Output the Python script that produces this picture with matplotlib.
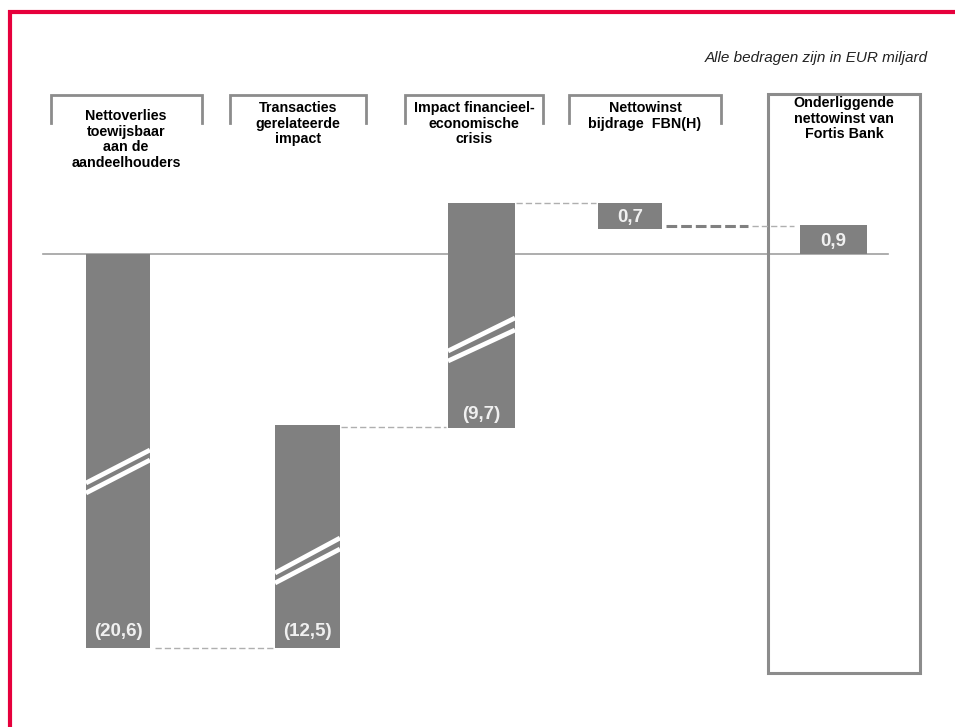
import matplotlib
matplotlib.use('Agg')
import matplotlib.pyplot as plt
from matplotlib.lines import Line2D
from matplotlib.patches import Rectangle

plt.rcParams['font.family'] = ['Liberation Sans', 'DejaVu Sans']

# Chart data
categories = ['Nettoverlies\ntoewijsbaar\naan de\naandeelhouders',
              'Transacties\ngerelateerde\nimpact',
              'Impact financieel-\neconomische\ncrisis',
              'Nettowinst\nbijdrage  FBN(H)',
              'Onderliggende\nnettowinst van\nFortis Bank']
values = [-20.6, -12.5, -9.7, 0.7, 0.9]
value_labels = ['(20,6)', '(12,5)', '(9,7)', '0,7', '0,9']
# drawn extents of the (broken) bars, in chart units
shown_top = [0.0, -8.55, 2.55, 2.55, 1.45]
shown_bottom = [-19.7, -19.7, -8.7, 1.25, 0.0]
note = 'Alle bedragen zijn in EUR miljard'

# Layout (x in pixels, y in chart units: 20 px per unit, zero at px 254)
def u(px):
    return (254 - px) / 20.0

bar_left = [86, 275, 448, 598, 800]
bar_width = [64, 65, 67, 64, 67]
label_y = [u(632), u(632), u(415), u(218), u(242)]
bar_color = '#808080'
line_gray = '#8C8C8C'
dash_gray = '#AFAFAF'
red = '#E6003C'

fig = plt.figure(figsize=(9.55, 7.27), dpi=100)
ax = fig.add_axes([0, 0, 1, 1])
ax.set_xlim(0, 955)
ax.set_ylim(u(727), u(0))
ax.axis('off')

# red frame
fig.add_artist(Line2D([8 / 955, 1], [1 - 12 / 727] * 2, color=red, lw=3,
                      transform=fig.transFigure, solid_capstyle='butt'))
fig.add_artist(Line2D([9.5 / 955] * 2, [0, 1 - 10 / 727], color=red, lw=3,
                      transform=fig.transFigure, solid_capstyle='butt'))

# zero line
ax.plot([43, 888], [0, 0], color='#A0A0A0', lw=1.2, zorder=1)

# final result box
ax.add_patch(Rectangle((768, u(673)), 152, u(94) - u(673), fill=False,
                       edgecolor=line_gray, lw=2.2, zorder=1))

# bars
for i in range(len(values)):
    ax.bar(bar_left[i], shown_top[i] - shown_bottom[i], bottom=shown_bottom[i],
           width=bar_width[i], align='edge', color=bar_color, zorder=2)
    ax.text(bar_left[i] + bar_width[i] / 2, label_y[i], value_labels[i],
            ha='center', va='center', fontsize=13.5, fontweight='bold',
            color='#F0F0F0', zorder=4)

# break marks
breaks = [(0, [(483, 450), (493, 460)]),
          (1, [(573, 538), (583, 549)]),
          (2, [(351, 318), (361, 330)])]
for i, stripes in breaks:
    for yl, yr in stripes:
        ax.plot([bar_left[i], bar_left[i] + bar_width[i]], [u(yl), u(yr)],
                color='white', lw=3.4, solid_capstyle='butt', zorder=3)

# connectors
dash = (0, (4.5, 2.2))
ax.plot([155, 273], [shown_bottom[0], shown_bottom[1]], color=dash_gray,
        lw=1.0, linestyle=dash, zorder=1)
ax.plot([341, 446], [-8.65, -8.65], color=dash_gray, lw=1.0,
        linestyle=dash, zorder=1)
ax.plot([516, 596], [shown_top[2], shown_top[3]], color=dash_gray, lw=1.0,
        linestyle=dash, zorder=1)
ax.plot([666, 748], [u(226), u(226)], color='#808080', lw=2.2,
        linestyle=(0, (3.5, 1.3)), zorder=1)
ax.plot([752, 794], [u(226), u(226)], color=dash_gray, lw=1.0,
        linestyle=dash, zorder=1)

# header brackets
brackets = [(51, 202), (230, 366), (405, 543), (569, 721)]
for x0, x1 in brackets:
    ax.plot([x0, x0, x1, x1], [u(123), u(95.5), u(95.5), u(123)],
            color=line_gray, lw=2.0, solid_joinstyle='miter', zorder=1)

header_pos = [(126, u(109)), (298, u(101)), (474, u(101)), (645, u(101)),
              (844, u(96))]
for (hx, hy), name in zip(header_pos, categories):
    ax.text(hx, hy, name, ha='center', va='top', fontsize=10.3,
            fontweight='bold', color='black', linespacing=1.15)

ax.text(928, u(58), note, ha='right', va='center', fontsize=11,
        style='italic', color='#222222')

fig.savefig('out.png', dpi=100)
